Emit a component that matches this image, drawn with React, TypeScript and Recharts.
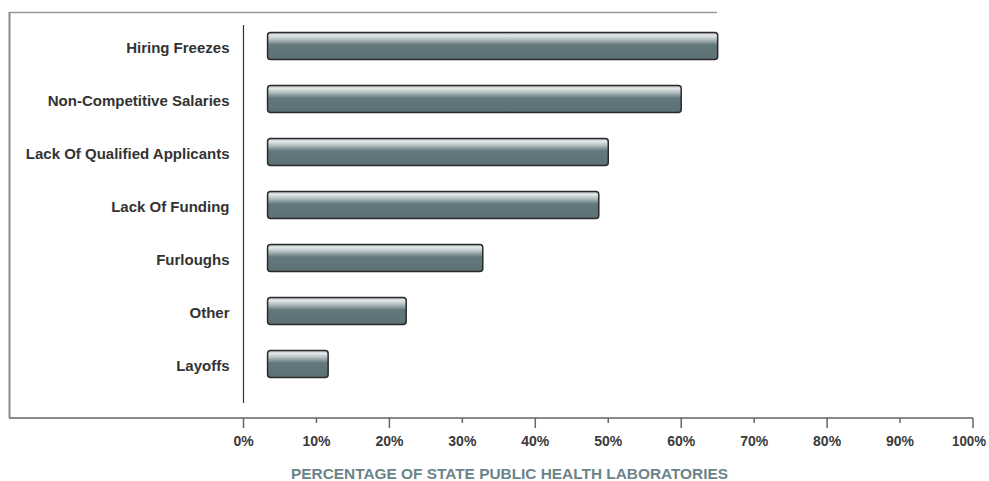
import React from 'react';
import { BarChart, Bar, XAxis, YAxis } from 'recharts';

const categories = [
  'Hiring Freezes',
  'Non-Competitive Salaries',
  'Lack Of Qualified Applicants',
  'Lack Of Funding',
  'Furloughs',
  'Other',
  'Layoffs',
];
const values = [65, 60, 50, 48.7, 32.8, 22.3, 11.6];
const barBase = 3.3;
const xTicks = [0, 10, 20, 30, 40, 50, 60, 70, 80, 90, 100];
const axisTitle = 'PERCENTAGE OF STATE PUBLIC HEALTH LABORATORIES';

const data = categories.map((name, i) => ({ name, range: [barBase, values[i]] }));

const FONT = '"Liberation Sans", Arial, Helvetica, sans-serif';

const YTick = (props: any) => {
  const { x, y, payload } = props;
  return (
    <text x={x} y={y} dy={6.5} textAnchor="end" fill="#333" fontSize={15} fontWeight="bold" fontFamily={FONT}>
      {payload.value}
    </text>
  );
};

const XTick = (props: any) => {
  const { x, y, payload } = props;
  const major = payload.value % 20 === 0;
  const shift = payload.value === 100 ? -4 : 0;
  return (
    <g>
      <line x1={x} x2={x} y1={y} y2={y + (major ? 10 : 5)} stroke="#666" strokeWidth={1.5} />
      <text x={x + shift} y={y + 28} textAnchor="middle" fill="#3a3a3a" fontSize={14} fontWeight="bold" fontFamily={FONT} textLength={payload.value === 100 ? 34 : undefined} lengthAdjust="spacingAndGlyphs">
        {`${payload.value}%`}
      </text>
    </g>
  );
};

const GlossBar = (props: any) => {
  const { x, y, width, height } = props;
  if (width == null || height == null) return null;
  return (
    <g>
      <rect x={x} y={y} width={width} height={height} rx={3} ry={3} fill="url(#barGloss)" stroke="#2a2a2a" strokeWidth={1.5} />
    </g>
  );
};

export default function App() {
  return (
    <div style={{ position: 'absolute', left: 0, top: 0, width: 989, height: 481, background: '#fff' }}>
      <svg width={989} height={481} style={{ position: 'absolute', left: 0, top: 0 }}>
        <line x1={9} x2={717} y1={12.5} y2={12.5} stroke="#9a9a9a" strokeWidth={1.5} />
        <line x1={9.5} x2={9.5} y1={12} y2={418} stroke="#8a8a8a" strokeWidth={2} />
        <line x1={9} x2={244} y1={418} y2={418} stroke="#8a8a8a" strokeWidth={2} />
        <line x1={243.5} x2={243.5} y1={25} y2={403} stroke="#333" strokeWidth={1.2} />
        <text x={509.5} y={479} textAnchor="middle" fill="#6b8489" fontSize={15} fontWeight="bold" fontFamily={FONT} textLength={437} lengthAdjust="spacingAndGlyphs">
          {axisTitle}
        </text>
      </svg>
      <div style={{ position: 'absolute', left: 0, top: 0 }}>
        <BarChart
          width={989}
          height={481}
          data={data}
          layout="vertical"
          margin={{ top: 19.5, right: 16, bottom: 33, left: 0 }}
        >
          <defs>
            <linearGradient id="barGloss" x1="0" y1="0" x2="0" y2="1">
              <stop offset="0" stopColor="#a3b0b3" />
              <stop offset="0.1" stopColor="#e6eaeb" />
              <stop offset="0.24" stopColor="#b9c4c6" />
              <stop offset="0.46" stopColor="#63787d" />
              <stop offset="1" stopColor="#5b7176" />
            </linearGradient>
          </defs>
          <XAxis
            type="number"
            domain={[0, 100]}
            ticks={xTicks}
            interval={0}
            axisLine={{ stroke: '#8a8a8a', strokeWidth: 2 }}
            tickLine={false}
            tickSize={0}
            tickMargin={0}
            tick={<XTick />}
            height={30}
          />
          <YAxis
            type="category"
            dataKey="name"
            width={243.5}
            axisLine={false}
            tickLine={false}
            tickSize={0}
            tickMargin={14}
            interval={0}
            tick={<YTick />}
            padding={{ top: 0, bottom: 27.5 }}
          />
          <Bar dataKey="range" barSize={27} shape={<GlossBar />} isAnimationActive={false} />
        </BarChart>
      </div>
    </div>
  );
}
